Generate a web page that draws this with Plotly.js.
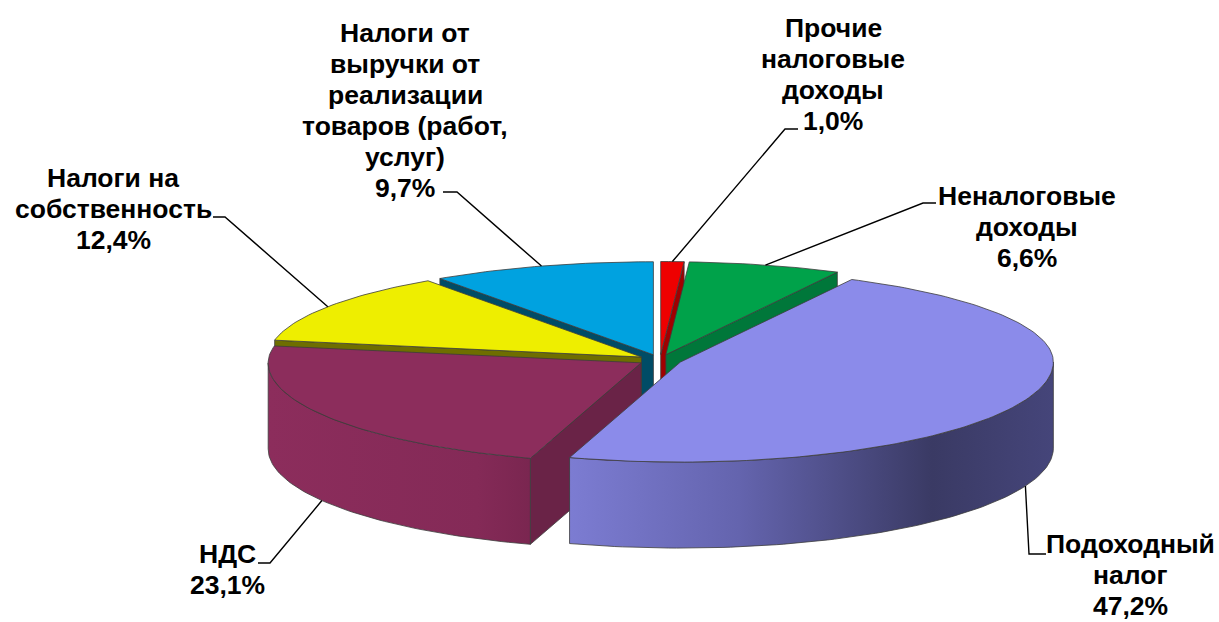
<!DOCTYPE html>
<html>
<head>
<meta charset="utf-8">
<script src="https://cdn.plot.ly/plotly-3.0.1.min.js"></script>
<style>html,body{margin:0;padding:0;background:#fff;}#chart{width:1219px;height:622px;}</style>
</head>
<body>
<div id="chart"></div>
<script>
// ---- data ----
const categories = [
  'Прочие налоговые доходы',
  'Неналоговые доходы',
  'Подоходный налог',
  'НДС',
  'Налоги на собственность',
  'Налоги от выручки от реализации товаров (работ, услуг)'
];
const shares = [1.0, 6.6, 47.2, 23.1, 12.4, 9.7];
const labelLines = [
  ['Прочие', 'налоговые', 'доходы'],
  ['Неналоговые', 'доходы'],
  ['Подоходный', 'налог'],
  ['НДС'],
  ['Налоги на', 'собственность'],
  ['Налоги от', 'выручки от', 'реализации', 'товаров (работ,', 'услуг)']
];

// ---- styles ----
const topColors  = ['#ee0000', '#00a24a', '#8b8bea', '#8c2d5c', '#eeee00', '#00a2e0'];
const cutColors  = ['#a00000', '#00773a', '#5a5aa8', '#6a2347', '#6e6e00', '#004c66'];
const wallScales = [
  [[0,'#c00000'],[1,'#900000']],
  [[0,'#008a3e'],[1,'#006a30']],
  [[0,'#7c7cd2'],[0.35,'#6464ae'],[0.75,'#3a3a64'],[1,'#45457a']],
  [[0,'#8c2d5c'],[0.8,'#842a57'],[1,'#7a2650']],
  [[0,'#c8c800'],[1,'#a0a000']],
  [[0,'#0088c0'],[1,'#006a96']]
];
const edgeColor = '#3c3c3c';
const geo = {cx: 660, cy: 360, rx: 373, ryBack: 93, ryFront: 100, depth: 86, explode: 22};
const font = {family: 'Liberation Sans, Arial, sans-serif', size: 26.5, color: '#000'};
const lineStep = 31;
// label placement: centre x, first baseline, leader elbow/end points
const labelLayout = [
  {x: 833, base: 37,  elbow: [785, 129], end: [798, 129]},
  {x: 1027, base: 205, elbow: [923, 203], end: [936, 203]},
  {x: 1130, base: 553, elbow: [1029, 554], end: [1046, 554]},
  {x: 227, base: 563, elbow: [270, 563], end: [258, 563]},
  {x: 113, base: 187, elbow: [225, 217], end: [213, 217]},
  {x: 405, base: 42,  elbow: [457, 192], end: [443, 192]}
];

// ---- geometry from values ----
const total = shares.reduce((a, b) => a + b, 0);
const k = geo.ryBack / geo.rx;
let acc = 0;
const slices = shares.map((v, i) => {
  const a = acc / total * 360; acc += v;
  const b = acc / total * 360;
  const m = (a + b) / 2, r = m * Math.PI / 180;
  return {i, a, b, m, ox: geo.cx + geo.explode * Math.sin(r), oy: geo.cy - geo.explode * k * Math.cos(r)};
});
function pt(s, deg, dz) {
  const r = deg * Math.PI / 180, c = Math.cos(r);
  const ry = c > 0 ? geo.ryBack : geo.ryFront;
  return [s.ox + geo.rx * Math.sin(r), s.oy - ry * c + (dz || 0)];
}
function arc(s, a, b, dz) {
  const n = Math.max(2, Math.ceil(Math.abs(b - a) / 1.2));
  const out = [];
  for (let j = 0; j <= n; j++) out.push(pt(s, a + (b - a) * j / n, dz));
  return out;
}
function poly(points, opts) {
  return Object.assign({
    type: 'scatter', mode: 'lines', x: points.map(p => p[0]), y: points.map(p => p[1]),
    fill: 'toself', line: {color: edgeColor, width: 0.8}, hoverinfo: 'skip', showlegend: false
  }, opts);
}

const cuts = [], walls = [], tops = [];
slices.forEach(s => {
  const A = [s.ox, s.oy], Ad = [s.ox, s.oy + geo.depth];
  const sa = Math.sin(s.a * Math.PI / 180), sb = Math.sin(s.b * Math.PI / 180);
  if (sa < -1e-6) {
    const p = pt(s, s.a), pd = pt(s, s.a, geo.depth);
    cuts.push({z: (A[1] + p[1]) / 2, t: poly([A, p, pd, Ad, A], {fillcolor: cutColors[s.i]})});
  }
  if (sb > 1e-6) {
    const p = pt(s, s.b), pd = pt(s, s.b, geo.depth);
    cuts.push({z: (A[1] + p[1]) / 2, t: poly([A, p, pd, Ad, A], {fillcolor: cutColors[s.i]})});
  }
  const lo = Math.max(s.a, 90), hi = Math.min(s.b, 270);
  if (lo < hi) {
    const pts = arc(s, lo, hi, 0).concat(arc(s, hi, lo, geo.depth));
    pts.push(pts[0]);
    walls.push({z: pt(s, (lo + hi) / 2)[1], t: poly(pts, {fillgradient: {type: 'horizontal', colorscale: wallScales[s.i]}})});
  }
  const tp = [A].concat(arc(s, s.a, s.b, 0)); tp.push(A);
  tops.push(poly(tp, {fillcolor: topColors[s.i]}));
});
cuts.sort((p, q) => p.z - q.z);
walls.sort((p, q) => p.z - q.z);

const traces = cuts.map(c => c.t).concat(walls.map(w => w.t)).concat(tops);

// leader lines and labels
const annotations = [];
slices.forEach(s => {
  const L = labelLayout[s.i];
  const back = Math.cos(s.m * Math.PI / 180) > 0;
  const anc = back ? pt(s, s.m) : pt(s, s.m, geo.depth);
  traces.push({
    type: 'scatter', mode: 'lines', x: [anc[0], L.elbow[0], L.end[0]], y: [anc[1], L.elbow[1], L.end[1]],
    line: {color: '#000', width: 1.4}, hoverinfo: 'skip', showlegend: false
  });
  const pct = shares[s.i].toFixed(1).replace('.', ',') + '%';
  labelLines[s.i].concat([pct]).forEach((t, j) => {
    annotations.push({
      x: L.x, y: L.base + j * lineStep - font.size * 0.33, xref: 'x', yref: 'y',
      xanchor: 'center', yanchor: 'middle', showarrow: false, borderpad: 0,
      text: '<b>' + t + '</b>', font: font
    });
  });
});

const layout = {
  width: 1219, height: 622, margin: {l: 0, r: 0, t: 0, b: 0},
  paper_bgcolor: '#fff', plot_bgcolor: '#fff', showlegend: false,
  xaxis: {range: [0, 1219], visible: false, fixedrange: true},
  yaxis: {range: [622, 0], visible: false, fixedrange: true},
  annotations: annotations
};
Plotly.newPlot('chart', traces, layout, {staticPlot: true, displayModeBar: false});
</script>
</body>
</html>
